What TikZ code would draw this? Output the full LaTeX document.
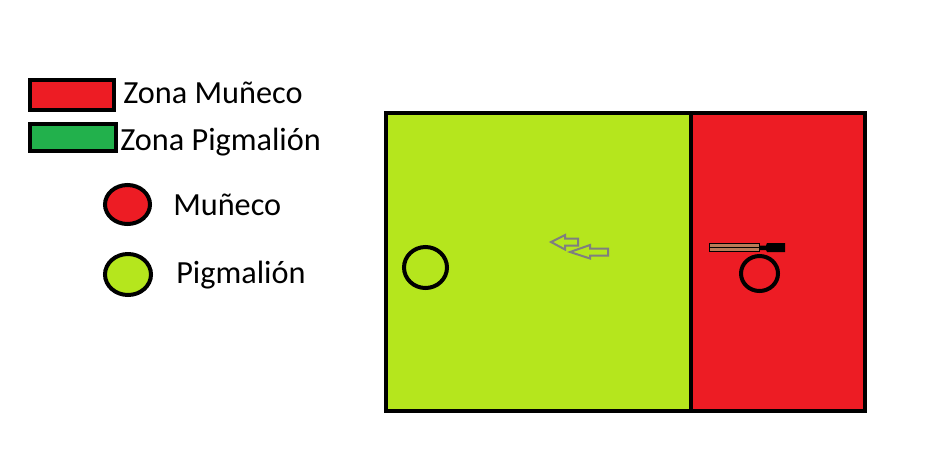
\documentclass[tikz,border=0pt]{standalone}
\usepackage{fontspec}
\setmainfont{Carlito}
\definecolor{zred}{HTML}{ED1C24}
\definecolor{zgreen}{HTML}{22B14C}
\definecolor{zlime}{HTML}{B5E61D}
\definecolor{zgray}{HTML}{7F7F7F}
\definecolor{zbrown}{HTML}{B97A57}
\begin{document}
\begin{tikzpicture}[x=0.75pt,y=-0.75pt,
  thick4/.style={line width=3pt},
  lbl/.style={anchor=base west,inner sep=0pt,font=\fontsize{24.2pt}{27pt}\selectfont},
  hollowarrow/.style={draw=zgray,line width=1.5pt,fill=zlime,line join=miter}]
\useasboundingbox (0,0) rectangle (934,458);
\fill[white] (0,0) rectangle (934,458);
% legend boxes
\draw[thick4,fill=zred] (30,80) rectangle (114,110);
\draw[thick4,fill=zgreen] (30,124) rectangle (116,151);
\node[lbl] (lz1) at (123,103) {Zona Muñeco};
\node[lbl] (lz2) at (120,150) {Zona Pigmalión};
% legend circles
\draw[thick4,fill=zred] (127.5,204.5) ellipse [x radius=22.5, y radius=19.5];
\draw[thick4,fill=zlime] (128,274.5) ellipse [x radius=23, y radius=20.5];
\node[lbl] (lm) at (173,215) {Muñeco};
\node[lbl] (lp) at (176,283) {Pigmalión};
% main zones
\fill[zlime] (386,113) rectangle (691,411);
\fill[zred] (691,113) rectangle (865,411);
\draw[line width=3.2pt] (386,113) rectangle (865,411);
\draw[thick4] (691,113) -- (691,411);
% Pigmalion
\draw[thick4] (425.5,267.5) ellipse [x radius=21.5, y radius=20.5];
% Muneco
\draw[thick4] (759.5,273.5) ellipse [x radius=18.5, y radius=17.5];
% knife
\fill[zbrown,draw=black,line width=0.75pt] (709.5,243.5) rectangle (759,251.5);
\draw[black,line width=0.75pt] (709.5,247.5) -- (759,247.5);
\fill[black] (759,245.5) -- (766,245.5) -- (767,243) -- (785,243) -- (785,252) -- (767,252) -- (766,250) -- (759,250) -- cycle;
% arrows
\draw[hollowarrow] (551,242) -- (565,235) -- (565,238.5) -- (578,238.5) -- (578,245.5) -- (565,245.5) -- (565,249.5) -- cycle;
\draw[hollowarrow] (570,252) -- (590,245) -- (590,248.5) -- (608,248.5) -- (608,255.5) -- (590,255.5) -- (590,258.5) -- cycle;
\end{tikzpicture}
\end{document}
